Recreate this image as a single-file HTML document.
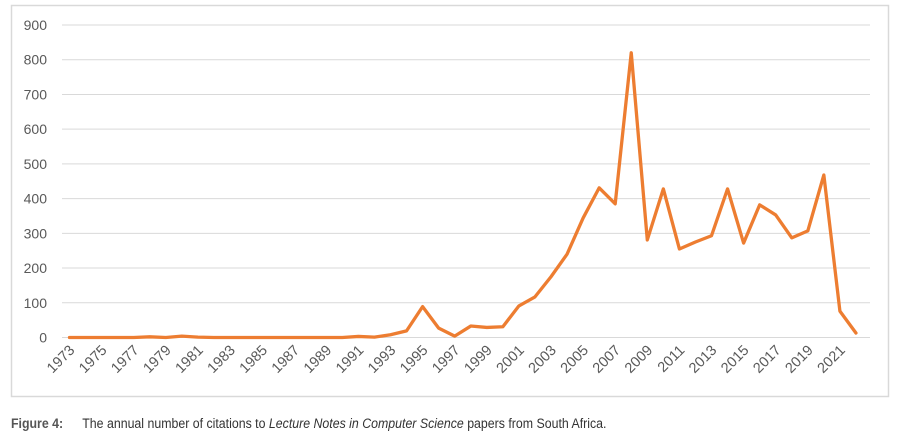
<!DOCTYPE html>
<html><head><meta charset="utf-8"><style>
body{margin:0;background:#fff;width:897px;height:442px;overflow:hidden;font-family:"Liberation Sans",sans-serif}
#cap{position:absolute;left:11px;top:416px;font-size:14.2px;color:#333;white-space:nowrap;transform:scaleX(0.87);transform-origin:left}
</style></head><body>
<svg id="chart" width="897" height="410" style="position:absolute;left:0;top:0">
<rect x="11.5" y="5.5" width="877" height="391" fill="#fff" stroke="#d9d9d9" stroke-width="1.5"/>
<g id="grid"></g><g id="yt"></g><g id="xt"></g><g id="ln"></g>
</svg>
<div id="cap"><b style="color:#555">Figure 4:</b><span style="display:inline-block;width:22px"></span>The annual number of citations to <i>Lecture Notes in Computer Science</i> papers from South Africa.</div>
<script>
const years=[];for(let y=1973;y<=2022;y++)years.push(y);
const citations=[0,0,0,0,0,2,0,4,1,0,0,0,0,0,0,0,0,0,3,1,8,19,89,27,4,33,29,31,91,117,175,240,344,431,385,820,281,428,255,275,293,428,272,382,353,287,307,468,76,13];
const yTicks=[0,100,200,300,400,500,600,700,800,900];
const NS="http://www.w3.org/2000/svg";
const X=i=>69.5+16.05*i, Y=v=>337.5-v*0.3472;
function mk(t,a,p){const e=document.createElementNS(NS,t);for(const k in a)e.setAttribute(k,a[k]);document.getElementById(p).appendChild(e);return e;}
yTicks.forEach(v=>{
 const g=mk('line',{x1:62,x2:870,y1:Y(v),y2:Y(v),stroke:'#d9d9d9','stroke-width':1},'grid');
 
 
 const t=mk('text',{x:47,y:Y(v)+5,'text-anchor':'end','font-size':14,fill:'#595959'},'yt');
 
 
 t.textContent=v;
});
years.forEach((yr,i)=>{if(i%2)return;
 const t=mk('text',{x:0,y:0,'text-anchor':'end','font-size':14.5,fill:'#595959',transform:`translate(${X(i)+6},${351}) rotate(-45)`},'xt');
 
 
 t.textContent=yr;
});
const p=mk('polyline',{points:citations.map((v,i)=>X(i)+','+Y(v)).join(' '),fill:'none',stroke:'#ed7d31','stroke-width':3.3,'stroke-linejoin':'round','stroke-linecap':'round'},'ln');


</script>
</body></html>
